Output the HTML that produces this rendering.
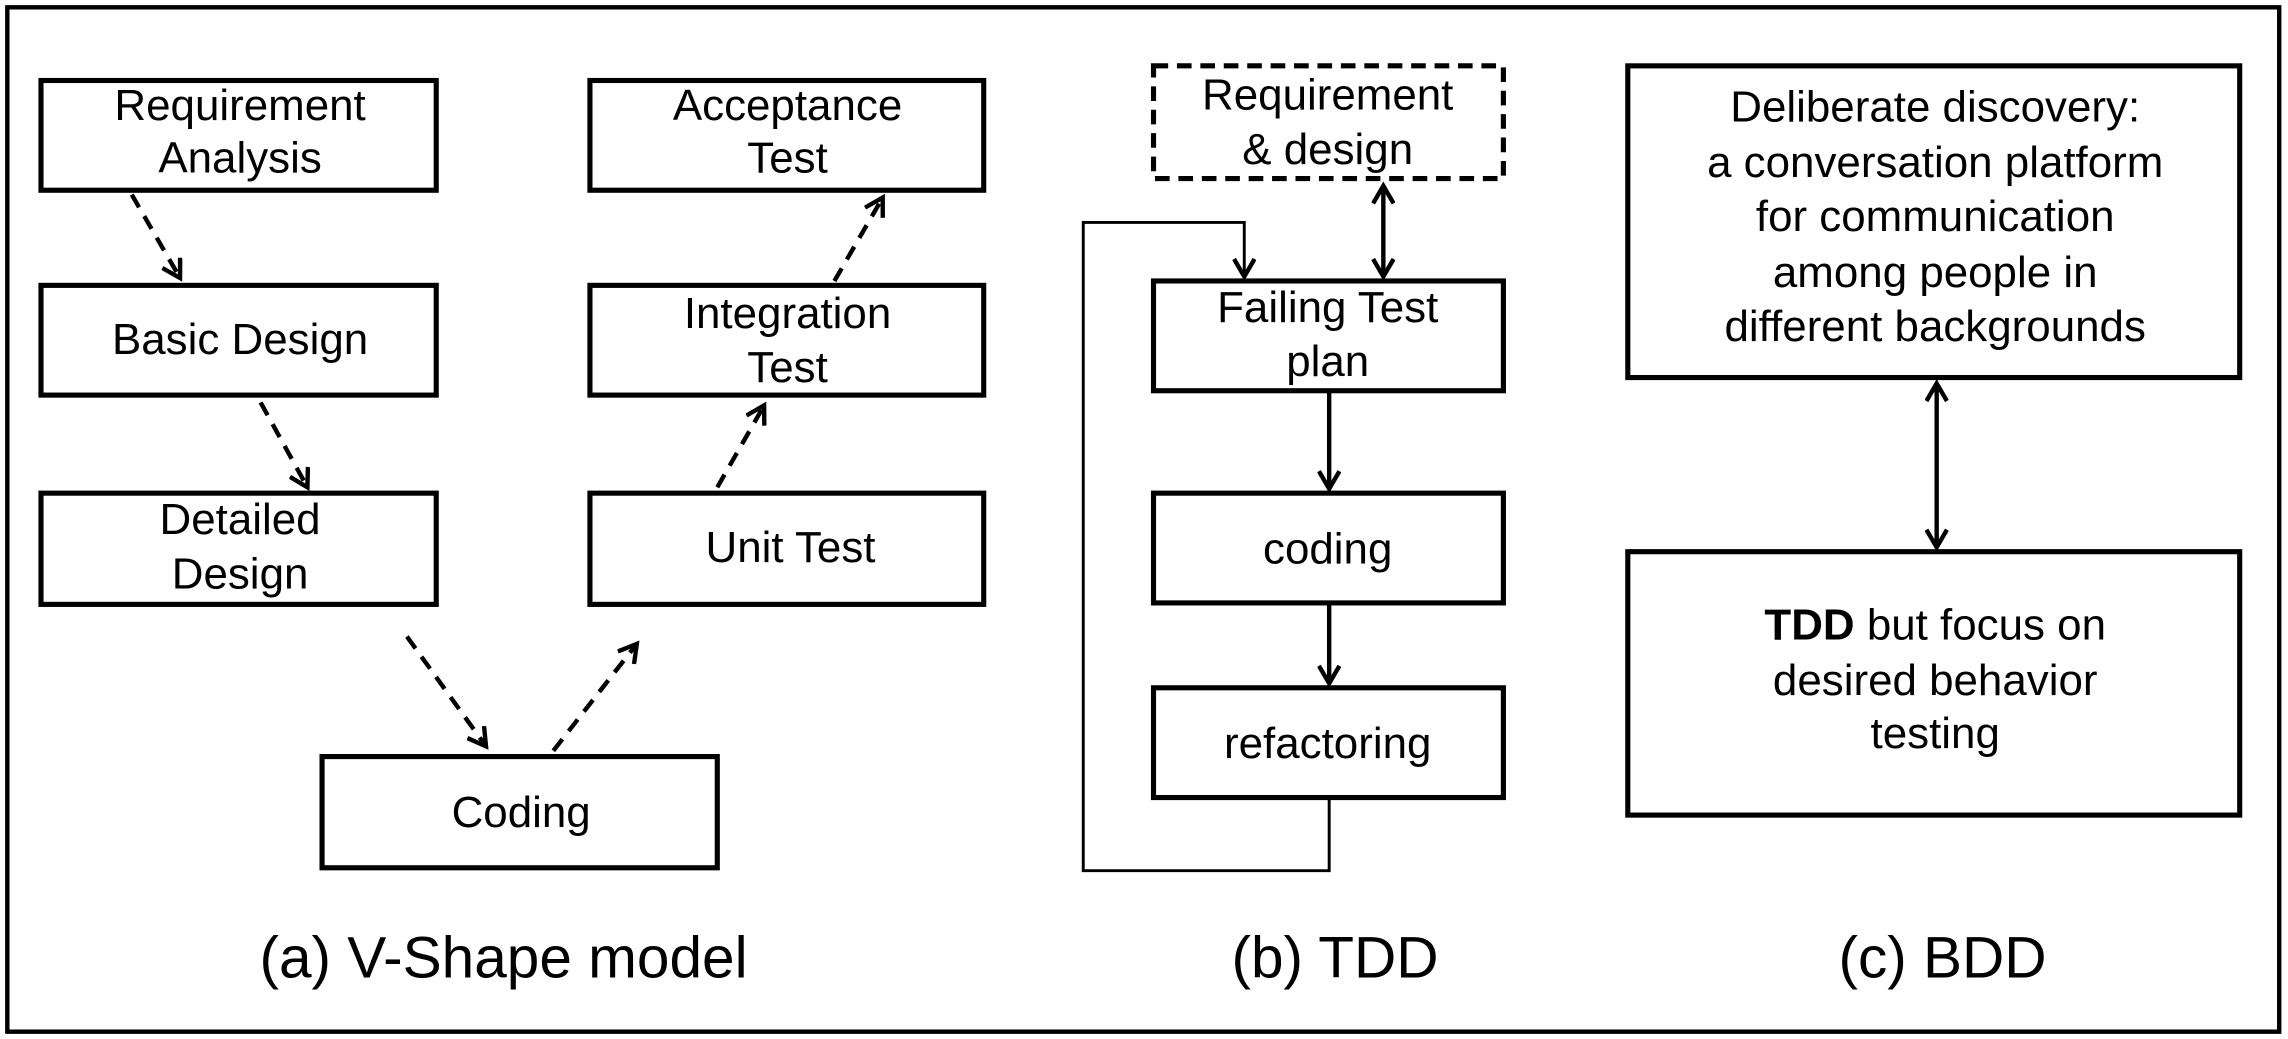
<!DOCTYPE html>
<html><head><meta charset="utf-8"><style>
html,body{margin:0;padding:0;background:#fff;}
svg{display:block;}
text{font-family:"Liberation Sans",sans-serif;fill:#000;}
</style></head><body>
<svg width="2288" height="1039" viewBox="0 0 1563 710" preserveAspectRatio="none" xmlns="http://www.w3.org/2000/svg">
<defs>
<marker id="ah" markerWidth="16" markerHeight="16" refX="13" refY="8" orient="auto" markerUnits="userSpaceOnUse">
<path d="M1,1 L13,8 L1,15" fill="none" stroke="#000" stroke-width="3"/>
</marker>
<marker id="ahs" markerWidth="16" markerHeight="16" refX="3" refY="8" orient="auto" markerUnits="userSpaceOnUse">
<path d="M15,1 L3,8 L15,15" fill="none" stroke="#000" stroke-width="3"/>
</marker>
</defs>
<rect x="5" y="5" width="1552" height="700" fill="#fff" stroke="#000" stroke-width="3"/>
<g fill="#fff" stroke="#000" stroke-width="3.5">
<rect x="28" y="55" width="270" height="75"/>
<rect x="28" y="195" width="270" height="75"/>
<rect x="28" y="337" width="270" height="76"/>
<rect x="220" y="517" width="270" height="76"/>
<rect x="403" y="55" width="269" height="75"/>
<rect x="403" y="195" width="269" height="75"/>
<rect x="403" y="337" width="269" height="76"/>
<rect x="788" y="45" width="239" height="77" stroke-dasharray="10,6"/>
<rect x="788" y="192" width="239" height="75"/>
<rect x="788" y="337" width="239" height="75"/>
<rect x="788" y="470" width="239" height="75"/>
<rect x="1112" y="45" width="418" height="213"/>
<rect x="1112" y="377" width="418" height="180"/>
</g>
<g stroke="#000" stroke-width="3" fill="none" stroke-dasharray="10,7">
<line x1="90" y1="133" x2="123" y2="190" marker-end="url(#ah)"/>
<line x1="178" y1="275" x2="210" y2="333" marker-end="url(#ah)"/>
<line x1="278" y1="435" x2="332" y2="510" marker-end="url(#ah)"/>
<line x1="378" y1="513" x2="435" y2="440" marker-end="url(#ah)"/>
<line x1="490" y1="333" x2="522" y2="277" marker-end="url(#ah)"/>
<line x1="570" y1="192" x2="603" y2="135" marker-end="url(#ah)"/>
</g>
<g stroke="#000" stroke-width="3" fill="none">
<polyline points="908,545 908,595 740,595 740,152 850,152 850,189" marker-end="url(#ah)" stroke-width="2"/>
<line x1="945" y1="127" x2="945" y2="189" marker-start="url(#ahs)" marker-end="url(#ah)"/>
<line x1="908" y1="267" x2="908" y2="334" marker-end="url(#ah)"/>
<line x1="908" y1="412" x2="908" y2="467" marker-end="url(#ah)"/>
<line x1="1323" y1="262" x2="1323" y2="374" marker-start="url(#ahs)" marker-end="url(#ah)"/>
</g>
<g font-size="30" text-anchor="middle">
<text x="164" y="82">Requirement</text><text x="164" y="118">Analysis</text>
<text x="164" y="242">Basic Design</text>
<text x="164" y="365">Detailed</text><text x="164" y="402">Design</text>
<text x="356" y="565">Coding</text>
<text x="538" y="82">Acceptance</text><text x="538" y="118">Test</text>
<text x="538" y="224">Integration</text><text x="538" y="261">Test</text>
<text x="540" y="384">Unit Test</text>
<text x="907" y="75">Requirement</text><text x="907" y="112">&amp; design</text>
<text x="907" y="220">Failing Test</text><text x="907" y="257">plan</text>
<text x="907" y="385">coding</text>
<text x="907" y="518">refactoring</text>
<text x="1322" y="83">Deliberate discovery:</text>
<text x="1322" y="121">a  conversation platform</text>
<text x="1322" y="158">for  communication</text>
<text x="1322" y="196">among people in</text>
<text x="1322" y="233">different backgrounds</text>
<text x="1322" y="437"><tspan font-weight="bold">TDD</tspan> but focus on</text>
<text x="1322" y="475">desired  behavior</text>
<text x="1322" y="511">testing</text>
</g>
<g font-size="40" text-anchor="middle">
<text x="344" y="668">(a) V-Shape model</text>
<text x="912" y="668">(b) TDD</text>
<text x="1327" y="668">(c) BDD</text>
</g>
</svg>
</body></html>
